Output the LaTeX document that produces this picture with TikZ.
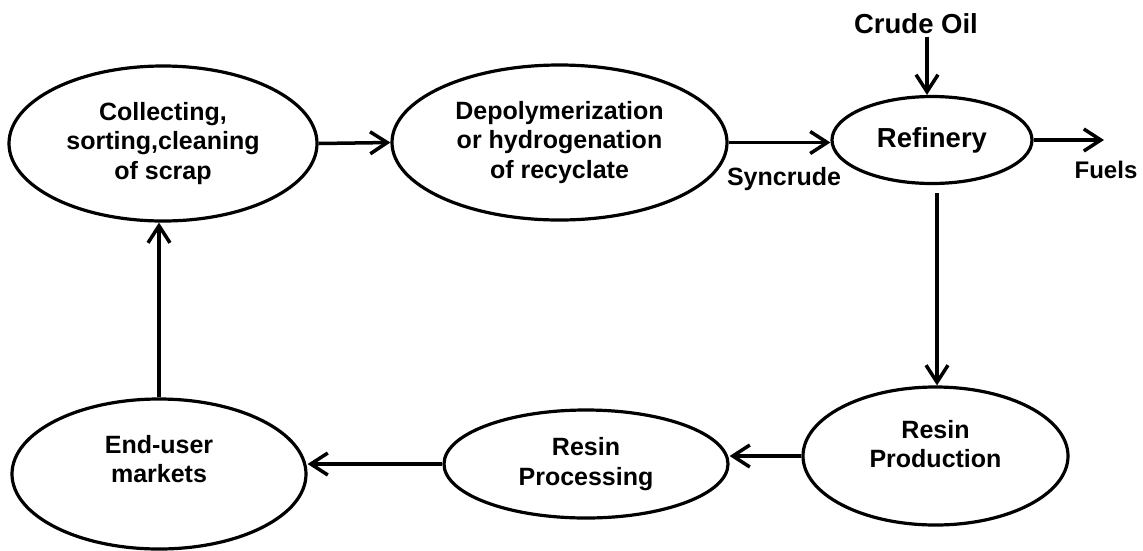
\documentclass[tikz,border=0pt]{standalone}
\usepackage{fontspec}
\setmainfont{Liberation Sans}
\usetikzlibrary{arrows.meta,shapes.geometric}
\begin{document}
\begin{tikzpicture}[x=1pt,y=-1pt,
  bub/.style={ellipse,draw,line width=3.2pt,inner sep=0pt},
  txt/.style={font=\bfseries\fontsize{25}{29.5}\selectfont,align=center},
  big/.style={font=\bfseries\fontsize{27.5}{31}\selectfont},
  arr/.style={line width=3.5pt,-{Straight Barb[length=17pt,width=22pt]}},
]
\useasboundingbox (0,0) rectangle (1143,550);
\node[bub,txt,minimum width=308pt,minimum height=155pt] (col) at (163,143.5) {Collecting,\\sorting,cleaning\\of scrap};
\node[bub,txt,minimum width=335pt,minimum height=155pt] (dep) at (559.5,142.5) {Depolymerization\\or hydrogenation\\of recyclate};
\node[bub,big,minimum width=200pt,minimum height=87pt] (ref) at (932,140) {Refinery};
\node[bub,minimum width=265pt,minimum height=138pt,label={[txt,yshift=12pt]center:Resin\\Production}] (rprod) at (935.5,456) {};
\node[bub,txt,minimum width=284pt,minimum height=108pt] (rproc) at (586,464) {Resin\\Processing};
\node[bub,minimum width=294pt,minimum height=150pt,label={[txt,yshift=15pt]center:End-user\\markets}] (end) at (159,474) {};
\node[big,anchor=base] (crude) at (916,33) {Crude Oil};
\node[txt,anchor=base] (syn) at (784,185) {Syncrude};
\node[txt,anchor=base,font=\bfseries\fontsize{24}{28}\selectfont] (fuels) at (1106,178) {Fuels};
\coordinate (fuelend) at (1104,140);
\draw[arr] (col.east) -- (dep.west);
\draw[arr] (dep.east) -- (dep.east -| ref.west);
\draw[arr] (ref.east) -- (fuelend);
\draw[arr] ([xshift=11pt]crude.south) -- ([xshift=-5pt]ref.north);
\draw[arr] ([xshift=5pt,yshift=-8pt]ref.south) -- ([xshift=5pt]ref.south |- rprod.north);
\draw[arr] (rprod.west) -- (rprod.west -| rproc.east);
\draw[arr] (rproc.west) -- (rproc.west -| end.east);
\draw[arr] (end.north) -- (end.north |- col.south);
\end{tikzpicture}
\end{document}
